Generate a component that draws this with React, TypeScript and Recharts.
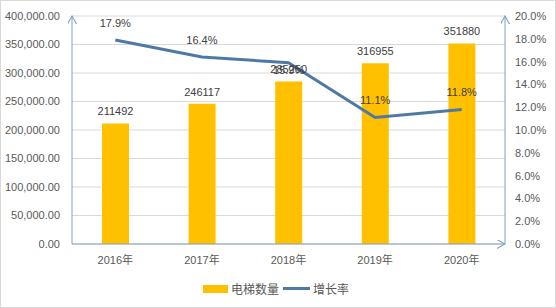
import React from 'react';
import { ComposedChart, Bar, Line, XAxis, YAxis, CartesianGrid, LabelList, Legend } from 'recharts';

const categories = ['2016年', '2017年', '2018年', '2019年', '2020年'];
const elevatorCounts = [211492, 246117, 285250, 316955, 351880];
const growthRates = [0.179, 0.164, 0.159, 0.111, 0.118];
const rateLabelBelow = [false, false, true, false, false];
const leftTicks = [0, 50000, 100000, 150000, 200000, 250000, 300000, 350000, 400000];
const rightTicks = [0, 0.02, 0.04, 0.06, 0.08, 0.1, 0.12, 0.14, 0.16, 0.18, 0.2];

const data = categories.map((c, i) => ({ name: c, count: elevatorCounts[i], rate: growthRates[i] }));

const FONT = "'Liberation Sans', 'Noto Sans CJK SC', sans-serif";
const AXIS_COLOR = '#7FA3C4';
const BAR_COLOR = '#FFC000';
const LINE_COLOR = '#4F79A5';

const fmtLeft = (v: number) =>
  v.toLocaleString('en-US', { minimumFractionDigits: 2, maximumFractionDigits: 2 });
const fmtRight = (v: number) => (v * 100).toFixed(1) + '%';

const renderLegend = () => (
  <div style={{ paddingTop: 10, display: 'flex', justifyContent: 'center', alignItems: 'center', fontFamily: FONT, fontSize: 12, color: '#595959' }}>
    <span style={{ display: 'inline-block', width: 25, height: 8, background: BAR_COLOR, marginRight: 3 }} />
    <span style={{ marginRight: 4 }}>电梯数量</span>
    <span style={{ display: 'inline-block', width: 27, height: 3, background: LINE_COLOR, marginRight: 3 }} />
    <span>增长率</span>
  </div>
);

const RateLabel = (props: any) => {
  const { x, y, value, index } = props;
  const below = rateLabelBelow[index];
  return (
    <text
      x={x}
      y={below ? y + 7 : y - 17}
      textAnchor="middle"
      dominantBaseline="central"
      fill="#404040"
      fontSize={11}
      fontFamily={FONT}
    >
      {fmtRight(value)}
    </text>
  );
};

export default function App() {
  return (
    <div style={{ position: 'absolute', left: 0, top: 0, width: 556, height: 308, background: '#fff' }}>
      <svg width={0} height={0} style={{ position: 'absolute' }}>
        <defs>
          <marker id="arrow" viewBox="0 0 10 10" refX="9" refY="5" markerWidth="9" markerHeight="9" markerUnits="userSpaceOnUse" orient="auto-start-reverse">
            <path d="M0,0 L9,5 L0,10" fill="none" stroke={AXIS_COLOR} strokeWidth={1.2} />
          </marker>
        </defs>
      </svg>
      <div style={{ position: 'absolute', left: 0, top: 0, width: 554, height: 306, border: '1px solid #D9D9D9' }} />
      <ComposedChart
        width={556}
        height={308}
        data={data}
        margin={{ top: 16, right: 4, bottom: 4, left: 0 }}
      >
        <CartesianGrid horizontal vertical={false} stroke="#D9D9D9" yAxisId="left" />
        <XAxis
          dataKey="name"
          tickLine={false}
          axisLine={{ stroke: AXIS_COLOR, strokeWidth: 1, markerEnd: 'url(#arrow)' }}
          tick={{ fill: '#595959', fontSize: 11, fontFamily: FONT }}
          height={26}
          tickMargin={6}
        />
        <YAxis
          yAxisId="left"
          orientation="left"
          domain={[0, 400000]}
          ticks={leftTicks}
          tickFormatter={fmtLeft}
          tickLine={false}
          axisLine={{ stroke: AXIS_COLOR, strokeWidth: 1, markerStart: 'url(#arrow)' }}
          tick={{ fill: '#595959', fontSize: 11, fontFamily: FONT }}
          width={72}
          tickMargin={6}
          interval={0}
        />
        <YAxis
          yAxisId="right"
          orientation="right"
          domain={[0, 0.2]}
          ticks={rightTicks}
          tickFormatter={fmtRight}
          tickLine={false}
          axisLine={{ stroke: AXIS_COLOR, strokeWidth: 1, markerStart: 'url(#arrow)' }}
          tick={{ fill: '#595959', fontSize: 11, fontFamily: FONT, textAnchor: 'start' }}
          width={47}
          tickMargin={4}
          interval={0}
        />
        <Legend content={renderLegend} verticalAlign="bottom" height={34} />
        <Bar yAxisId="left" dataKey="count" fill={BAR_COLOR} isAnimationActive={false} barSize={27}>
          <LabelList dataKey="count" position="top" offset={8} fill="#404040" fontSize={11} fontFamily={FONT} />
        </Bar>
        <Line
          yAxisId="right"
          dataKey="rate"
          stroke={LINE_COLOR}
          strokeWidth={3}
          dot={false}
          activeDot={false}
          isAnimationActive={false}
        >
          <LabelList dataKey="rate" content={RateLabel} />
        </Line>
      </ComposedChart>
    </div>
  );
}
